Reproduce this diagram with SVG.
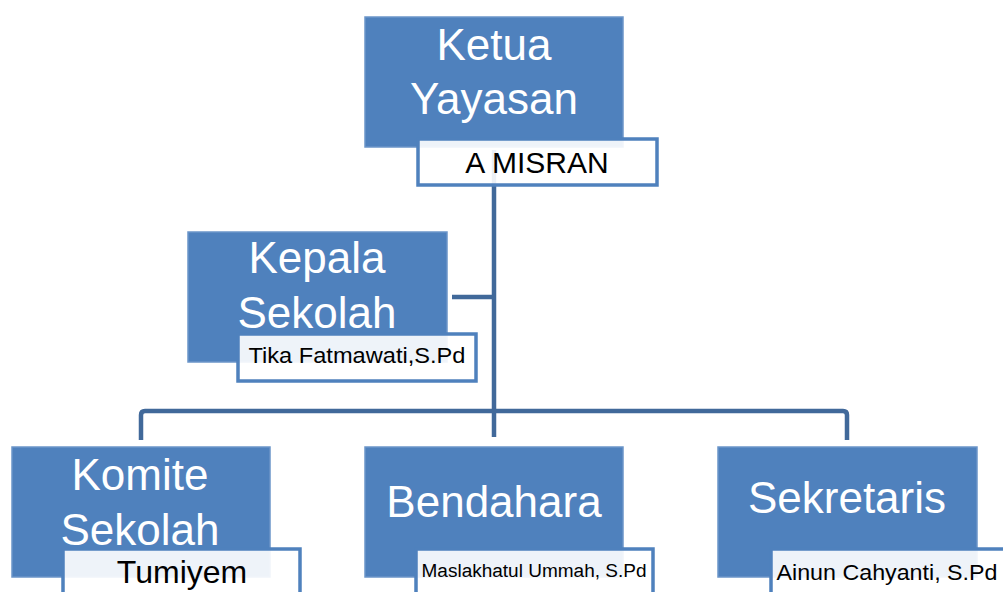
<svg xmlns="http://www.w3.org/2000/svg" width="1003" height="592" viewBox="0 0 1003 592">
<style>
.box{fill:#4F81BD;stroke:#6B95C9;stroke-width:1.5}
.name{fill:#ffffff;fill-opacity:0.9;stroke:#4F81BD;stroke-width:3.5}
.t{font-family:"Liberation Sans",Arial,sans-serif;fill:#ffffff;font-size:44px;text-anchor:middle}
.n{font-family:"Liberation Sans",Arial,sans-serif;fill:#000000;text-anchor:middle}
.c{fill:none;stroke:#41699A;stroke-width:4.5;stroke-linejoin:round}
</style>
<rect width="1003" height="592" fill="#ffffff"/>
<g id="connectors">
<path class="c" d="M494,150 V437"/>
<path class="c" d="M452,297 H494"/>
<path class="c" d="M141,440 V415 Q141,411 145,411 H843 Q847,411 847,415 V440"/>
</g>
<g id="ketua">
<rect class="box" x="365" y="17" width="258" height="130"/>
<text class="t" x="494" y="60">Ketua</text>
<text class="t" x="494" y="114">Yayasan</text>
<rect class="name" x="418" y="139" width="239" height="46"/>
<text class="n" x="537" y="173" font-size="30">A MISRAN</text>
</g>
<g id="kepala">
<rect class="box" x="188" y="232" width="259" height="130"/>
<text class="t" x="317" y="273">Kepala</text>
<text class="t" x="317" y="328">Sekolah</text>
<rect class="name" x="238" y="334" width="238" height="47"/>
<text class="n" x="357" y="363" font-size="22" textLength="217" lengthAdjust="spacingAndGlyphs">Tika Fatmawati,S.Pd</text>
</g>
<g id="komite">
<rect class="box" x="12" y="447" width="258" height="130"/>
<text class="t" x="140" y="490">Komite</text>
<text class="t" x="140" y="545">Sekolah</text>
<rect class="name" x="63" y="549" width="237" height="60"/>
<text class="n" x="182" y="583" font-size="32">Tumiyem</text>
</g>
<g id="bendahara">
<rect class="box" x="365" y="447" width="258" height="130"/>
<text class="t" x="494" y="517">Bendahara</text>
<rect class="name" x="416" y="549" width="237" height="60"/>
<text class="n" x="534" y="577" font-size="18" textLength="225" lengthAdjust="spacingAndGlyphs">Maslakhatul Ummah, S.Pd</text>
</g>
<g id="sekretaris">
<rect class="box" x="718" y="447" width="259" height="130"/>
<text class="t" x="847" y="513">Sekretaris</text>
<rect class="name" x="771" y="549" width="240" height="60"/>
<text class="n" x="887" y="580" font-size="22" textLength="221" lengthAdjust="spacingAndGlyphs">Ainun Cahyanti, S.Pd</text>
</g>
</svg>
